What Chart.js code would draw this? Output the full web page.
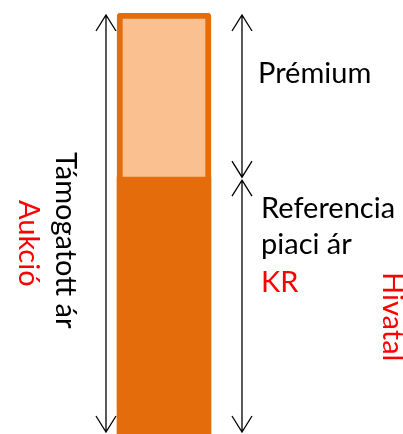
<!DOCTYPE html>
<html>
<head>
<meta charset="utf-8">
<script src="https://cdn.jsdelivr.net/npm/chart.js"></script>
<style>
    html, body { margin: 0; padding: 0; background: #fff; }
    #wrap { width: 403px; height: 434px; position: relative; }
</style>
</head>
<body>
<div id="wrap"><canvas id="chart"></canvas></div>
<script>
// adatok
const categories = ['Támogatott ár'];
const referenceValues = [61];   // Referencia piaci ár (alsó, sötét)
const premiumValues = [39];     // Prémium (felső, világos)
const labelLeft = 'Támogatott ár';
const labelLeftRed = 'Aukció';
const labelPremium = 'Prémium';
const labelReference = ['Referencia', 'piaci ár'];
const labelReferenceRed = 'KR';
const labelRightRed = 'Hivatal';

const COLORS = {
    dark: '#E46C0A',
    light: '#FAC090',
    text: '#000000',
    red: '#FF0000'
};
const FONT = '29px Lato, "Open Sans", sans-serif';

function drawArrowLine(ctx, x, y1, y2, headTop, headBottom) {
    const dx = 10, dy = 16;
    ctx.beginPath();
    ctx.moveTo(x, y1);
    ctx.lineTo(x, y2);
    if (headTop) {
        ctx.moveTo(x - dx, y1 + dy);
        ctx.lineTo(x, y1);
        ctx.lineTo(x + dx, y1 + dy);
    }
    if (headBottom) {
        ctx.moveTo(x - dx, y2 - dy);
        ctx.lineTo(x, y2);
        ctx.lineTo(x + dx, y2 - dy);
    }
    ctx.stroke();
}

function drawRotated(ctx, text, baselineX, startY, color) {
    ctx.save();
    ctx.translate(baselineX, startY);
    ctx.rotate(Math.PI / 2);
    ctx.fillStyle = color;
    ctx.textAlign = 'left';
    ctx.textBaseline = 'alphabetic';
    ctx.fillText(text, 0, 0);
    ctx.restore();
}

// nyilak és feliratok
const annotations = {
    id: 'annotations',
    afterDatasetsDraw(chart) {
        const ctx = chart.ctx;
        const y = chart.scales.y;
        const bar = chart.getDatasetMeta(0).data[0];
        const left = bar.x - bar.width / 2;
        const right = bar.x + bar.width / 2;
        const total = referenceValues[0] + premiumValues[0];
        const yTop = y.getPixelForValue(total) + 2;
        const yBottom = y.getPixelForValue(0) - 2;
        const yMid = y.getPixelForValue(referenceValues[0]);

        ctx.save();
        ctx.strokeStyle = '#000';
        ctx.lineWidth = 1.3;
        drawArrowLine(ctx, left - 11, yTop, yBottom, true, true);
        drawArrowLine(ctx, right + 31, yTop, yMid, true, true);
        drawArrowLine(ctx, right + 31, yMid + 3, yBottom, true, true);

        ctx.font = FONT;
        ctx.textAlign = 'left';
        ctx.textBaseline = 'alphabetic';
        ctx.fillStyle = COLORS.text;
        ctx.fillText(labelPremium, 258, 83);
        ctx.fillText(labelReference[0], 261, 218);
        ctx.fillText(labelReference[1], 261, 254);
        ctx.fillStyle = COLORS.red;
        ctx.fillText(labelReferenceRed, 261, 292);

        drawRotated(ctx, labelLeft, 56, 152, COLORS.text);
        drawRotated(ctx, labelLeftRed, 19, 200, COLORS.red);
        drawRotated(ctx, labelRightRed, 383, 272, COLORS.red);
        ctx.restore();
    }
};

new Chart(document.getElementById('chart'), {
    type: 'bar',
    data: {
        labels: categories,
        datasets: [
            {
                label: labelReference.join(' '),
                data: referenceValues,
                backgroundColor: COLORS.dark,
                borderWidth: 0,
                barThickness: 94
            },
            {
                label: labelPremium,
                data: premiumValues,
                backgroundColor: COLORS.light,
                borderColor: COLORS.dark,
                borderWidth: 6,
                borderSkipped: 'bottom',
                borderRadius: { topLeft: 4, topRight: 4, bottomLeft: 0, bottomRight: 0 },
                barThickness: 94
            }
        ]
    },
    options: {
        responsive: true,
        maintainAspectRatio: false,
        animation: false,
        layout: { padding: { top: 13, bottom: 0, left: 0, right: 75 } },
        plugins: {
            legend: { display: false },
            tooltip: { enabled: false }
        },
        scales: {
            x: { stacked: true, display: false },
            y: { stacked: true, display: false, min: 0, max: 100 }
        }
    },
    plugins: [annotations]
});
</script>
</body>
</html>
